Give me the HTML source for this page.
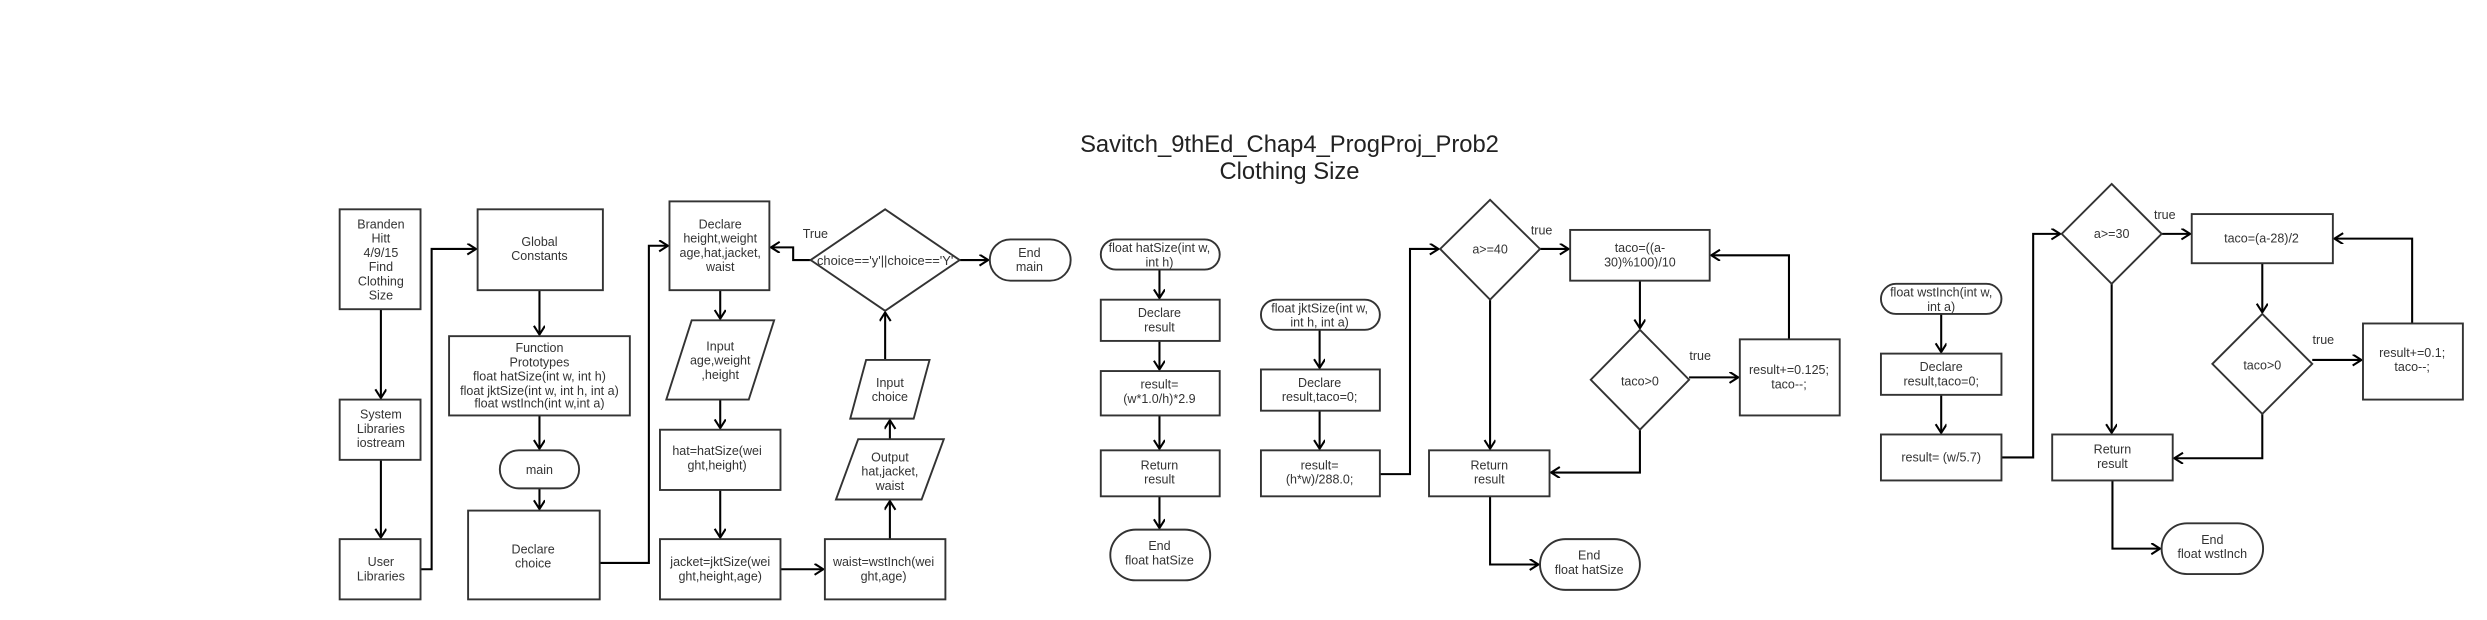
<!DOCTYPE html>
<html><head><meta charset="utf-8"><style>
html,body{margin:0;padding:0;background:#fff;}
svg{display:block;}
text{font-family:"Liberation Sans Narrow","Liberation Sans",sans-serif;font-size:7.9px;fill:#333;text-anchor:middle;}
.t{font-family:"Liberation Sans",sans-serif;font-size:15px;fill:#222;}
.s{fill:#fff;stroke:#333;stroke-width:1.2;}
.c{fill:none;stroke:#000;stroke-width:1.3;marker-end:url(#a);}
</style></head><body>
<svg width="2487" height="620" viewBox="0 0 1568 391" xmlns="http://www.w3.org/2000/svg">
<defs><marker id="a" markerUnits="userSpaceOnUse" markerWidth="8" markerHeight="8" refX="6" refY="3.5" orient="auto"><path d="M0.5,0 L6,3.5 L0.5,7" fill="none" stroke="#000" stroke-width="1.3"/></marker></defs>

<text class="t" x="813" y="96">Savitch_9thEd_Chap4_ProgProj_Prob2</text>
<text class="t" x="813" y="113">Clothing Size</text>

<path class="c" d="M240,195 V251"/>
<path class="c" d="M240,290 V339"/>
<path class="c" d="M265,359 H272 V157 H300"/>
<path class="c" d="M340,183 V211"/>
<path class="c" d="M340,262 V283"/>
<path class="c" d="M340,308 V321"/>
<path class="c" d="M378,355 H409 V155 H421"/>
<path class="c" d="M454,183 V201"/>
<path class="c" d="M454,252 V270"/>
<path class="c" d="M454,309 V339"/>
<path class="c" d="M492,359 H519"/>
<path class="c" d="M561,340 V316"/>
<path class="c" d="M561,277 V265"/>
<path class="c" d="M558,227 V197"/>
<path class="c" d="M511,164 H500 V156 H486"/>
<path class="c" d="M605,164 H623"/>

<rect class="s" x="214" y="132" width="51" height="63"/>
<text x="240" y="144">Branden</text><text x="240" y="153">Hitt</text><text x="240" y="162">4/9/15</text><text x="240" y="171">Find</text><text x="240" y="180">Clothing</text><text x="240" y="189">Size</text>
<rect class="s" x="214" y="252" width="51" height="38"/>
<text x="240" y="264">System</text><text x="240" y="273">Libraries</text><text x="240" y="282">iostream</text>
<rect class="s" x="214" y="340" width="51" height="38"/>
<text x="240" y="357">User</text><text x="240" y="366">Libraries</text>
<rect class="s" x="301" y="132" width="79" height="51"/>
<text x="340" y="155">Global</text><text x="340" y="164">Constants</text>
<rect class="s" x="283" y="212" width="114" height="50"/>
<text x="340" y="222">Function</text><text x="340" y="231">Prototypes</text><text x="340" y="240">float hatSize(int w, int h)</text><text x="340" y="249">float jktSize(int w, int h, int a)</text><text x="340" y="257">float wstInch(int w,int a)</text>
<rect class="s" x="315" y="284" width="50" height="24" rx="12"/>
<text x="340" y="299">main</text>
<rect class="s" x="295" y="322" width="83" height="56"/>
<text x="336" y="349">Declare</text><text x="336" y="358">choice</text>
<rect class="s" x="422" y="127" width="63" height="56"/>
<text x="454" y="144">Declare</text><text x="454" y="153">height,weight</text><text x="454" y="162">age,hat,jacket,</text><text x="454" y="171">waist</text>
<polygon class="s" points="436,202 488,202 472,252 420,252"/>
<text x="454" y="221">Input</text><text x="454" y="230">age,weight</text><text x="454" y="239">,height</text>
<rect class="s" x="416" y="271" width="76" height="38"/>
<text x="452" y="287">hat=hatSize(wei</text><text x="452" y="296">ght,height)</text>
<rect class="s" x="416" y="340" width="76" height="38"/>
<text x="454" y="357">jacket=jktSize(wei</text><text x="454" y="366">ght,height,age)</text>
<rect class="s" x="520" y="340" width="76" height="38"/>
<text x="557" y="357">waist=wstInch(wei</text><text x="557" y="366">ght,age)</text>
<polygon class="s" points="541,277 595,277 581,315 527,315"/>
<text x="561" y="291">Output</text><text x="561" y="300">hat,jacket,</text><text x="561" y="309">waist</text>
<polygon class="s" points="546,227 586,227 576,264 536,264"/>
<text x="561" y="244">Input</text><text x="561" y="253">choice</text>
<polygon class="s" points="558,132 605,164 558,196 511,164"/>
<text x="558" y="167" textLength="86" lengthAdjust="spacingAndGlyphs">choice=='y'||choice=='Y'</text>
<text x="514" y="150">True</text>
<rect class="s" x="624" y="151" width="51" height="26" rx="13"/>
<text x="649" y="162">End</text><text x="649" y="171">main</text>

<path class="c" d="M731,170 V188"/>
<path class="c" d="M731,215 V233"/>
<path class="c" d="M731,262 V283"/>
<path class="c" d="M731,313 V333"/>
<rect class="s" x="694" y="151" width="75" height="19" rx="9.5"/>
<text x="731" y="159">float hatSize(int w,</text><text x="731" y="168">int h)</text>
<rect class="s" x="694" y="189" width="75" height="26"/>
<text x="731" y="200">Declare</text><text x="731" y="209">result</text>
<rect class="s" x="694" y="234" width="75" height="28"/>
<text x="731" y="245">result=</text><text x="731" y="254">(w*1.0/h)*2.9</text>
<rect class="s" x="694" y="284" width="75" height="29"/>
<text x="731" y="296">Return</text><text x="731" y="305">result</text>
<rect class="s" x="700" y="334" width="63" height="32" rx="16"/>
<text x="731" y="347">End</text><text x="731" y="356">float hatSize</text>

<path class="c" d="M832,208 V232"/>
<path class="c" d="M832,259 V283"/>
<path class="c" d="M870,299 H889 V157 H907"/>
<path class="c" d="M971,157 H989"/>
<path class="c" d="M939.5,189 V283"/>
<path class="c" d="M1034,177 V207"/>
<path class="c" d="M1065,238 H1096"/>
<path class="c" d="M1128,214 V161 H1079"/>
<path class="c" d="M1034,271 V298 H978"/>
<path class="c" d="M939.5,313 V356 H970"/>
<rect class="s" x="795" y="189" width="75" height="19" rx="9.5"/>
<text x="832" y="197">float jktSize(int w,</text><text x="832" y="206">int h, int a)</text>
<rect class="s" x="795" y="233" width="75" height="26"/>
<text x="832" y="244">Declare</text><text x="832" y="253">result,taco=0;</text>
<rect class="s" x="795" y="284" width="75" height="29"/>
<text x="832" y="296">result=</text><text x="832" y="305">(h*w)/288.0;</text>
<polygon class="s" points="939.5,126 971,157 939.5,189 908,157"/>
<text x="939.5" y="160">a&gt;=40</text>
<text x="972" y="148">true</text>
<rect class="s" x="990" y="145" width="88" height="32"/>
<text x="1034" y="159">taco=((a-</text><text x="1034" y="168">30)%100)/10</text>
<polygon class="s" points="1034,208 1065,239.5 1034,271 1003,239.5"/>
<text x="1034" y="243">taco&gt;0</text>
<text x="1072" y="227">true</text>
<rect class="s" x="1097" y="214" width="63" height="48"/>
<text x="1128" y="236">result+=0.125;</text><text x="1128" y="245">taco--;</text>
<rect class="s" x="901" y="284" width="76" height="29"/>
<text x="939" y="296">Return</text><text x="939" y="305">result</text>
<rect class="s" x="971" y="340" width="63" height="32" rx="16"/>
<text x="1002" y="353">End</text><text x="1002" y="362">float hatSize</text>

<path class="c" d="M1224,198 V222"/>
<path class="c" d="M1224,249 V273"/>
<path class="c" d="M1262,288.5 H1282 V147.5 H1299"/>
<path class="c" d="M1363,147.5 H1381"/>
<path class="c" d="M1331.5,179 V273"/>
<path class="c" d="M1426.5,166 V197"/>
<path class="c" d="M1458,227 H1489"/>
<path class="c" d="M1521,204 V150.5 H1472"/>
<path class="c" d="M1426.5,261 V289 H1371"/>
<path class="c" d="M1332,303 V346 H1362"/>
<rect class="s" x="1186" y="179" width="76" height="19" rx="9.5"/>
<text x="1224" y="187">float wstInch(int w,</text><text x="1224" y="196">int a)</text>
<rect class="s" x="1186" y="223" width="76" height="26"/>
<text x="1224" y="234">Declare</text><text x="1224" y="243">result,taco=0;</text>
<rect class="s" x="1186" y="274" width="76" height="29"/>
<text x="1224" y="291">result= (w/5.7)</text>
<polygon class="s" points="1331.5,116 1363,147.5 1331.5,179 1300,147.5"/>
<text x="1331.5" y="150">a&gt;=30</text>
<text x="1365" y="138">true</text>
<rect class="s" x="1382" y="135" width="89" height="31"/>
<text x="1426" y="153">taco=(a-28)/2</text>
<polygon class="s" points="1426.5,198 1458,229.5 1426.5,261 1395,229.5"/>
<text x="1426.5" y="233">taco&gt;0</text>
<text x="1465" y="217">true</text>
<rect class="s" x="1490" y="204" width="63" height="48"/>
<text x="1521" y="225">result+=0.1;</text><text x="1521" y="234">taco--;</text>
<rect class="s" x="1294" y="274" width="76" height="29"/>
<text x="1332" y="286">Return</text><text x="1332" y="295">result</text>
<rect class="s" x="1363" y="330" width="64" height="32" rx="16"/>
<text x="1395" y="343">End</text><text x="1395" y="352">float wstInch</text>
</svg>
</body></html>
